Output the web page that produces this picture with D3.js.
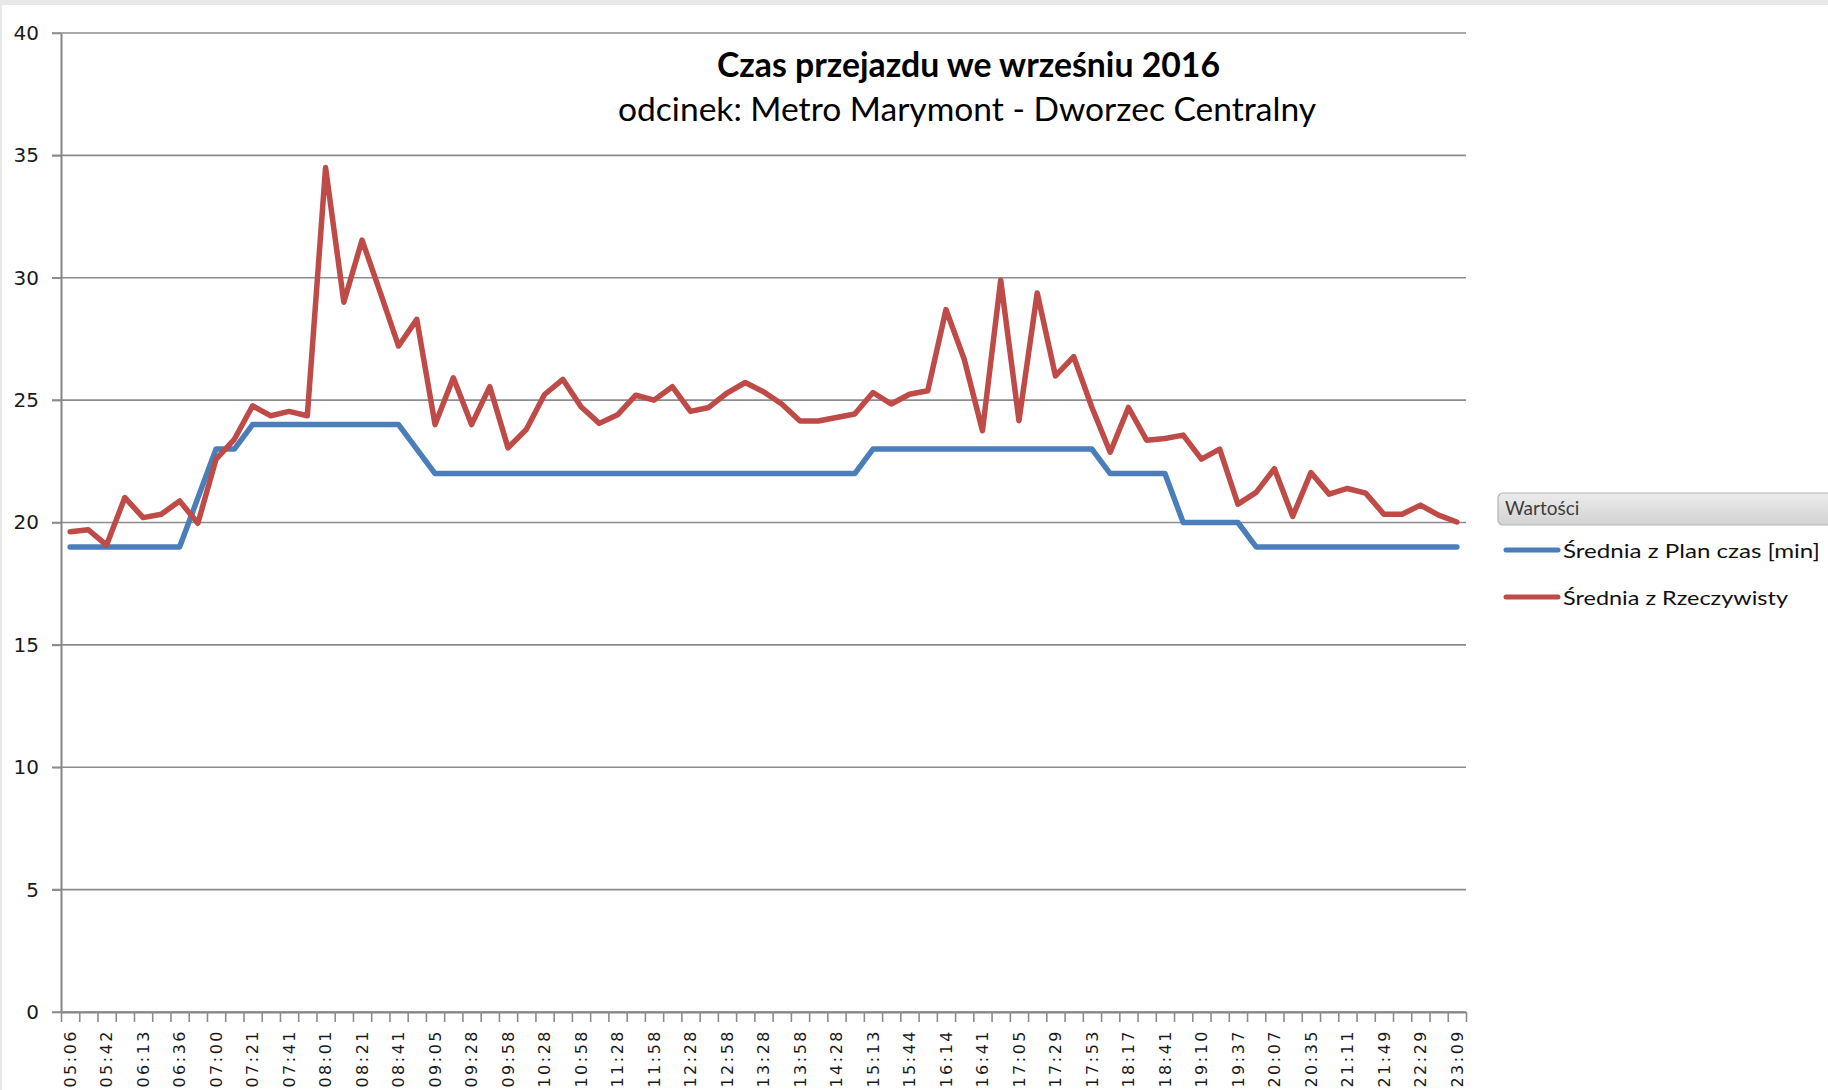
<!DOCTYPE html>
<html>
<head>
<meta charset="utf-8">
<title>Czas przejazdu</title>
<style>
  html, body { margin: 0; padding: 0; background: #fff; overflow: hidden; }
</style>
</head>
<body>
<div id="chart"></div>
<script src="https://cdn.jsdelivr.net/npm/d3@7/dist/d3.min.js"></script>
<script>

// etykiety osi X (co druga kategoria)
var timeLabels = ["05:06","05:42","06:13","06:36","07:00","07:21","07:41","08:01","08:21","08:41",
  "09:05","09:28","09:58","10:28","10:58","11:28","11:58","12:28","12:58","13:28",
  "13:58","14:28","15:13","15:44","16:14","16:41","17:05","17:29","17:53","18:17",
  "18:41","19:10","19:37","20:07","20:35","21:11","21:49","22:29","23:09"];

// Średnia z Plan czas [min]
var planValues = [19,19,19,19,19,19,19,21,23,23,
  24,24,24,24,24,24,24,24,24,23,
  22,22,22,22,22,22,22,22,22,22,
  22,22,22,22,22,22,22,22,22,22,
  22,22,22,22,23,23,23,23,23,23,
  23,23,23,23,23,23,23,22,22,22,
  22,20,20,20,20,19,19,19,19,19,
  19,19,19,19,19,19,19];

// Średnia z Rzeczywisty
var actualValues = [19.62,19.70,19.08,21.02,20.2,20.34,20.88,19.97,22.59,23.4,
  24.77,24.36,24.54,24.36,34.5,29.0,31.54,29.39,27.21,28.3,
  24.0,25.91,24.0,25.55,23.05,23.8,25.23,25.85,24.73,24.05,
  24.4,25.2,25.0,25.55,24.54,24.7,25.29,25.72,25.34,24.84,
  24.15,24.15,24.29,24.43,25.31,24.84,25.24,25.38,28.7,26.67,
  23.75,29.9,24.16,29.38,25.99,26.78,24.7,22.87,24.7,23.36,
  23.43,23.57,22.59,23.0,20.75,21.23,22.2,20.25,22.04,21.16,
  21.39,21.2,20.34,20.34,20.71,20.3,20.02];

var yTicks = [0,5,10,15,20,25,30,35,40];
var seriesNames = ["Średnia z Plan czas [min]", "Średnia z Rzeczywisty"];
var colors = ["#4a7ebb", "#be4b48"];

var W = 1828, H = 1090;
var plotLeft = 61, plotRight = 1466, plotTop = 33, plotBottom = 1012;

var svg = d3.select('#chart').append('svg')
  .attr('width', W).attr('height', H)
  .style('display', 'block');

// szare obramowanie u góry i z lewej
svg.append('rect').attr('x', 0).attr('y', 0).attr('width', W).attr('height', 5).attr('fill', '#e8e8e8');
svg.append('rect').attr('x', 0).attr('y', 0).attr('width', 2).attr('height', H).attr('fill', '#e8e8e8');

var n = planValues.length;
var x = d3.scaleBand().domain(d3.range(n)).range([plotLeft, plotRight]);
var xEdge = d3.scaleLinear().domain([0, n]).range([plotLeft, plotRight]);
var y = d3.scaleLinear().domain([0, 40]).range([plotBottom, plotTop]);

// siatka
svg.append('g')
  .selectAll('line')
  .data(yTicks)
  .join('line')
  .attr('x1', plotLeft - 9).attr('x2', plotRight)
  .attr('y1', d => y(d)).attr('y2', d => y(d))
  .attr('stroke', '#8c8c8c')
  .attr('stroke-width', 1.6);

// oś Y
var yAxis = svg.append('g')
  .attr('transform', 'translate(' + plotLeft + ',0)')
  .call(d3.axisLeft(y).tickValues(yTicks).tickSize(9).tickSizeOuter(0).tickPadding(13));
yAxis.select('.domain').attr('stroke', '#868686').attr('stroke-width', 2);
yAxis.selectAll('.tick line').attr('stroke', '#8c8c8c').attr('stroke-width', 1.6);
yAxis.selectAll('text')
  .style('font-family', 'DejaVu Sans')
  .style('font-size', '20px')
  .attr('fill', '#1a1a1a');

// oś X - kreski na granicach kategorii
var xTicks = svg.append('g')
  .attr('transform', 'translate(0,' + plotBottom + ')')
  .call(d3.axisBottom(xEdge).tickValues(d3.range(n + 1)).tickFormat('').tickSize(10).tickSizeOuter(0));
xTicks.select('.domain').attr('stroke', '#868686').attr('stroke-width', 2);
xTicks.selectAll('.tick line').attr('stroke', '#8c8c8c').attr('stroke-width', 1.6);

// oś X - etykiety co druga kategoria
var xLabels = svg.append('g')
  .attr('transform', 'translate(0,' + plotBottom + ')')
  .call(d3.axisBottom(x)
    .tickValues(d3.range(0, n, 2))
    .tickFormat(i => timeLabels[i / 2])
    .tickSize(0));
xLabels.select('.domain').remove();
xLabels.selectAll('text')
  .attr('transform', 'rotate(-90)')
  .attr('x', -17)
  .attr('y', 0)
  .attr('dy', '0.36em')
  .style('text-anchor', 'end')
  .style('font-family', 'DejaVu Sans')
  .style('font-size', '16px')
  .style('letter-spacing', '2.5px')
  .attr('fill', '#1a1a1a');

// linie serii
var line = d3.line()
  .x((d, i) => x(i) + x.bandwidth() / 2)
  .y(d => y(d));

[planValues, actualValues].forEach(function(vals, k) {
  svg.append('path')
    .attr('d', line(vals))
    .attr('fill', 'none')
    .attr('stroke', colors[k])
    .attr('stroke-width', 5.5)
    .attr('stroke-linejoin', 'round')
    .attr('stroke-linecap', 'round');
});

// tytuł
svg.append('text')
  .attr('x', 717).attr('y', 77)
  .attr('textLength', 503).attr('lengthAdjust', 'spacingAndGlyphs')
  .style('font-family', 'Lato')
  .style('font-weight', 'bold')
  .style('font-size', '34px')
  .attr('fill', '#000')
  .text('Czas przejazdu we wrześniu 2016');

svg.append('text')
  .attr('x', 618).attr('y', 121)
  .attr('textLength', 698).attr('lengthAdjust', 'spacingAndGlyphs')
  .style('font-family', 'Lato')
  .style('font-size', '33px')
  .attr('fill', '#000')
  .text('odcinek: Metro Marymont - Dworzec Centralny');

// legenda
var defs = svg.append('defs');
var grad = defs.append('linearGradient').attr('id', 'legHead')
  .attr('x1', '0%').attr('y1', '0%').attr('x2', '0%').attr('y2', '100%');
grad.append('stop').attr('offset', '0%').style('stop-color', '#ececec');
grad.append('stop').attr('offset', '100%').style('stop-color', '#d2d2d2');

svg.append('rect')
  .attr('x', 1498).attr('y', 493).attr('width', 340).attr('height', 32)
  .attr('rx', 5)
  .attr('fill', 'url(#legHead)')
  .attr('stroke', '#b4b4b4')
  .attr('stroke-width', 1.2);

svg.append('text')
  .attr('x', 1505).attr('y', 515)
  .style('font-family', 'Lato')
  .style('font-size', '19px')
  .attr('fill', '#3c3c3c')
  .text('Wartości');

var legY = [550, 597];
var legLen = [257, 225];
seriesNames.forEach(function(name, k) {
  svg.append('line')
    .attr('x1', 1506).attr('x2', 1558)
    .attr('y1', legY[k]).attr('y2', legY[k])
    .attr('stroke', colors[k])
    .attr('stroke-width', 5)
    .attr('stroke-linecap', 'round');
  svg.append('text')
    .attr('x', 1563).attr('y', legY[k] + 8)
    .attr('textLength', legLen[k]).attr('lengthAdjust', 'spacingAndGlyphs')
    .style('font-family', 'Lato')
    .style('font-size', '20px')
    .attr('fill', '#111')
    .text(name);
});

</script>
</body>
</html>
